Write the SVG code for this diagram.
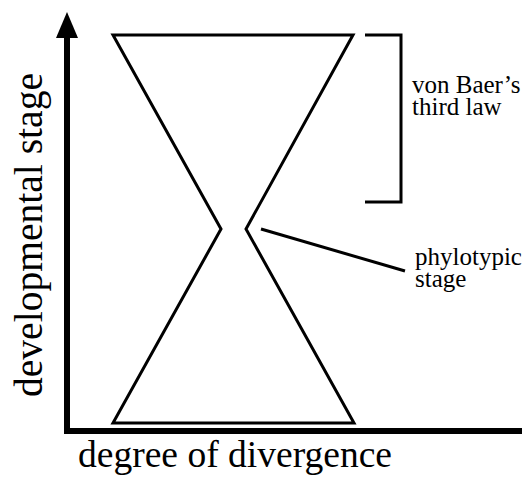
<svg xmlns="http://www.w3.org/2000/svg" width="525" height="479" viewBox="0 0 525 479">
<style>
text{font-family:"Liberation Serif",serif;fill:#000}
.ln{fill:none;stroke:#000;stroke-width:3}
.ax{fill:none;stroke:#000;stroke-width:6}
</style>
<rect width="525" height="479" fill="#fff"/>
<g id="axes">
<line class="ax" x1="67" y1="36" x2="67" y2="434"/>
<line class="ax" x1="64" y1="431" x2="522" y2="431"/>
<polygon points="67,12 56,38 78,38" fill="#000"/>
</g>
<g id="hourglass">
<polygon class="ln" stroke-linejoin="miter" points="113,35 353,35 246,229 354,423 113,423 221,229"/>
</g>
<g id="connectors">
<path class="ln" d="M365,35 H401 V202 H365"/>
<line class="ln" x1="261" y1="229" x2="405" y2="271"/>
</g>
<g id="label-vonbaer">
<text font-family="Liberation Serif, serif" x="412" y="93" font-size="25">von Baer’s</text>
<text font-family="Liberation Serif, serif" x="412" y="115" font-size="25">third law</text>
</g>
<g id="label-phylotypic">
<text font-family="Liberation Serif, serif" x="415" y="265" font-size="25">phylotypic</text>
<text font-family="Liberation Serif, serif" x="415" y="287" font-size="25">stage</text>
</g>
<g id="axis-labels">
<text font-family="Liberation Serif, serif" x="78" y="467" font-size="37" textLength="314" lengthAdjust="spacingAndGlyphs">degree of divergence</text>
<text font-family="Liberation Serif, serif" transform="translate(42,397) rotate(-90)" font-size="39" textLength="324" lengthAdjust="spacingAndGlyphs">developmental stage</text>
</g>
</svg>
